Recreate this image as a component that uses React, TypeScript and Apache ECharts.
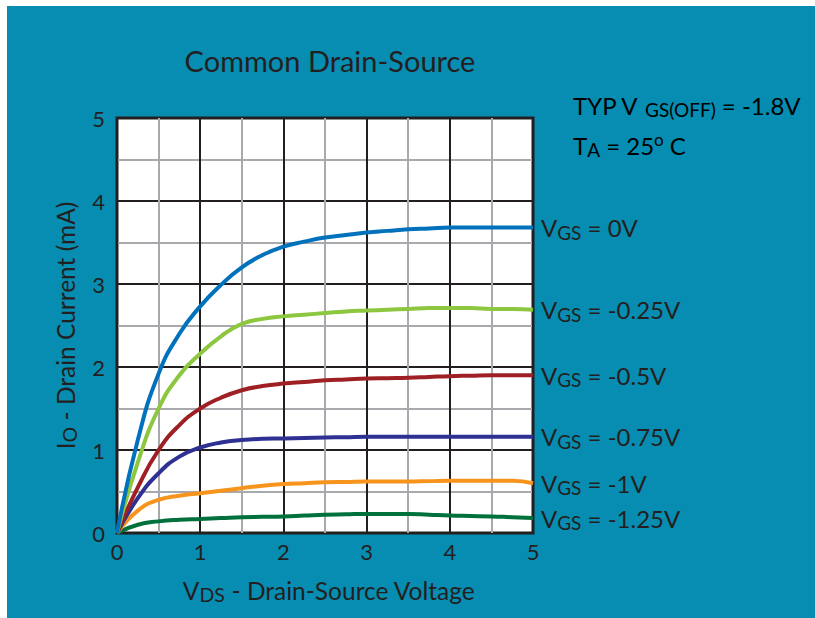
import { useEffect, useRef } from 'react';
import * as echarts from 'echarts';

// V_DS sample points (V)
const vds = [0, 0.25, 0.5, 0.75, 1, 1.25, 1.5, 1.75, 2, 2.25, 2.5, 2.75, 3, 3.25, 3.5, 3.75, 4, 4.25, 4.5, 4.75, 5];
// I_D (mA) for each V_GS
const id_0V = [0, 1.12, 1.92, 2.4, 2.73, 2.99, 3.2, 3.35, 3.45, 3.51, 3.56, 3.59, 3.62, 3.64, 3.66, 3.67, 3.68, 3.68, 3.68, 3.68, 3.68];
const id_m025V = [0, 0.85, 1.5, 1.9, 2.16, 2.37, 2.52, 2.58, 2.61, 2.63, 2.65, 2.67, 2.68, 2.69, 2.7, 2.71, 2.71, 2.71, 2.7, 2.7, 2.69];
const id_m05V = [0, 0.55, 1.0, 1.3, 1.5, 1.63, 1.72, 1.77, 1.8, 1.82, 1.84, 1.85, 1.86, 1.865, 1.87, 1.88, 1.89, 1.895, 1.9, 1.9, 1.9];
const id_m075V = [0, 0.42, 0.72, 0.92, 1.03, 1.09, 1.12, 1.135, 1.14, 1.145, 1.15, 1.155, 1.16, 1.16, 1.16, 1.16, 1.16, 1.16, 1.16, 1.16, 1.16];
const id_m1V = [0, 0.27, 0.4, 0.45, 0.48, 0.51, 0.54, 0.57, 0.59, 0.6, 0.61, 0.615, 0.62, 0.62, 0.62, 0.625, 0.63, 0.63, 0.63, 0.63, 0.6];
const id_m125V = [0, 0.1, 0.14, 0.16, 0.17, 0.18, 0.19, 0.195, 0.2, 0.21, 0.22, 0.225, 0.23, 0.23, 0.23, 0.22, 0.21, 0.205, 0.2, 0.19, 0.18];

const vgsLabels = ['0V', '-0.25V', '-0.5V', '-0.75V', '-1V', '-1.25V'];
const seriesData = [id_0V, id_m025V, id_m05V, id_m075V, id_m1V, id_m125V];
const seriesColors = ['#0072bc', '#8dc63f', '#9e1f24', '#2e3192', '#f7941d', '#00703c'];

const TXT = '#231f20';
const FONT = 'Lato';

export default function App() {
  const ref = useRef<HTMLDivElement>(null);
  useEffect(() => {
    document.body.style.margin = '0';
    const chart = echarts.init(ref.current!, null, { renderer: 'svg' });
    const labelRich = {
      v: { fontSize: 24, color: TXT, fontFamily: FONT, lineHeight: 28 },
      s: { fontSize: 19, color: TXT, fontFamily: FONT, lineHeight: 18, verticalAlign: 'bottom' as const },
    };
    const nameRich = {
      v: { fontSize: 24.5, color: TXT, fontFamily: FONT, lineHeight: 28 },
      s: { fontSize: 19.5, color: TXT, fontFamily: FONT, lineHeight: 18, verticalAlign: 'bottom' as const },
    };
    chart.setOption({
      animation: false,
      backgroundColor: '#068db1',
      textStyle: { fontFamily: FONT },
      grid: {
        left: 110, top: 112, width: 416, height: 415,
        show: true, borderColor: TXT, borderWidth: 3, backgroundColor: '#ffffff',
      },
      xAxis: {
        type: 'value', min: 0, max: 5, interval: 1,
        name: '{v|V}{s|DS}{v| - Drain-Source Voltage}',
        nameLocation: 'middle', nameGap: 43,
        nameTextStyle: { rich: nameRich, padding: [0, 0, 0, 8] },
        axisLine: { show: false }, axisTick: { show: false },
        axisLabel: { fontSize: 22, color: TXT, margin: 7, fontFamily: FONT },
        splitLine: { show: true, lineStyle: { color: TXT, width: 2 } },
        minorTick: { show: false, splitNumber: 2 },
        minorSplitLine: { show: true, lineStyle: { color: '#a7a9ac', width: 2 } },
      },
      yAxis: {
        type: 'value', min: 0, max: 5, interval: 1,
        name: '{v|I}{s|O}{v| - Drain Current (mA)}',
        nameLocation: 'middle', nameGap: 38,
        nameTextStyle: { rich: nameRich },
        axisLine: { show: false }, axisTick: { show: false },
        axisLabel: { fontSize: 22, color: TXT, margin: 12, fontFamily: FONT },
        splitLine: { show: true, lineStyle: { color: TXT, width: 2 } },
        minorTick: { show: false, splitNumber: 2 },
        minorSplitLine: { show: true, lineStyle: { color: '#a7a9ac', width: 2 } },
      },
      graphic: [
        {
          type: 'text', x: 323, y: 54,
          style: { text: 'Common Drain-Source', fontSize: 29, fill: TXT, fontFamily: FONT, align: 'center', verticalAlign: 'middle' },
        },
        {
          type: 'text', x: 566, y: 99,
          style: {
            text: '{v|TYP V }{s|GS(OFF)}{v| = -1.8V}', verticalAlign: 'middle',
            rich: labelRich,
          },
        },
        {
          type: 'text', x: 566, y: 139,
          style: {
            text: '{v|T}{s|A}{v| = 25}{p|o}{v| C}', verticalAlign: 'middle',
            rich: { ...labelRich, p: { fontSize: 17, color: TXT, fontFamily: FONT, lineHeight: 28, verticalAlign: 'top' as const } },
          },
        },
      ],
      series: seriesData.map((d, i) => ({
        type: 'line',
        name: vgsLabels[i],
        data: vds.map((x, j) => [x, d[j]]),
        smooth: 0.5,
        showSymbol: false,
        symbol: 'none',
        lineStyle: { color: seriesColors[i], width: 4 },
        endLabel: {
          show: true, distance: 8,
          formatter: `{v|V}{s|GS}{v| = ${vgsLabels[i]}}`,
          rich: labelRich,
        },
        z: 10 - i,
      })),
    });
    return () => chart.dispose();
  }, []);
  return (
    <div style={{ width: 815, height: 618, background: '#ffffff', position: 'relative' }}>
      <div ref={ref} style={{ position: 'absolute', left: 7, top: 6, width: 808, height: 612 }} />
    </div>
  );
}
